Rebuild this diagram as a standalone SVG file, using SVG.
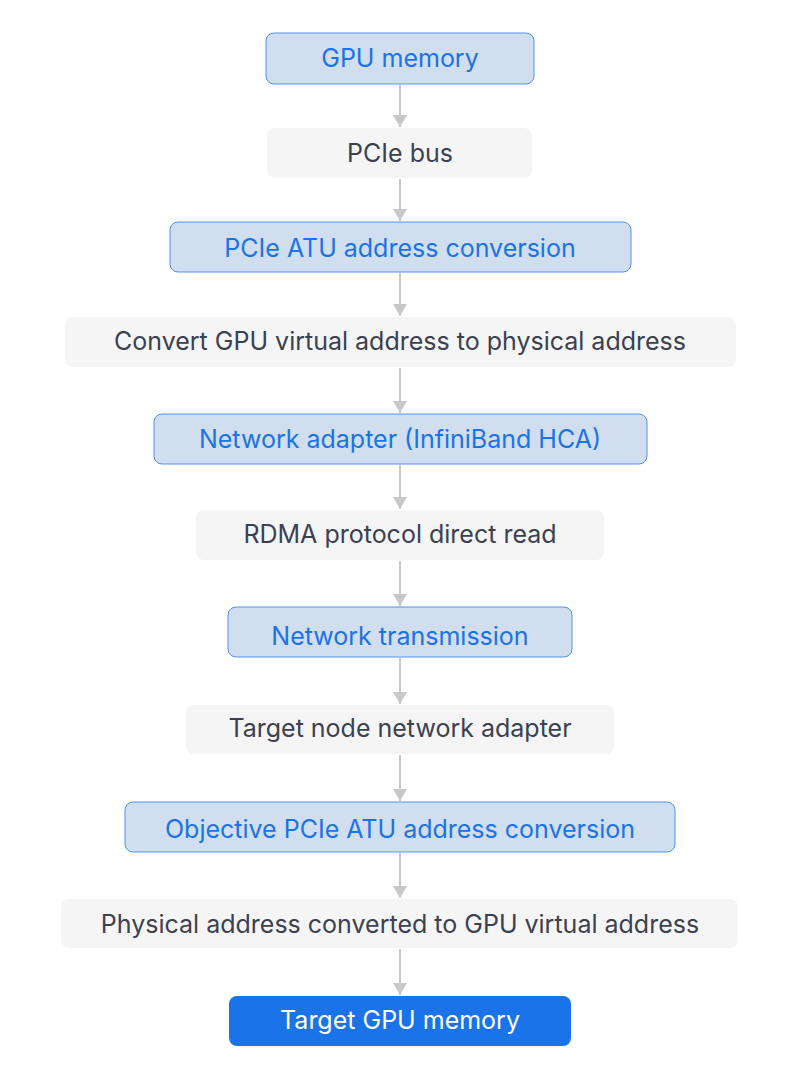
<svg xmlns="http://www.w3.org/2000/svg" width="799" height="1080" viewBox="0 0 799 1080">
<defs>
<style>
.b rect{fill:#d1deef;stroke:#4f93ec;stroke-width:1}
.g rect{fill:#f5f5f5}
.f rect{fill:#1a73e8}
text{font-family:Inter,"Liberation Sans",sans-serif;font-size:25px;text-anchor:middle;dominant-baseline:central}
.b text{fill:#1a73e8}
.g text{fill:#3b4150}
.f text{fill:#ffffff}
.c line{stroke:#c8c8c8;stroke-width:2}
</style>
<marker id="a" viewBox="0 0 12 14" refX="12" refY="7" markerWidth="12" markerHeight="14" markerUnits="userSpaceOnUse" orient="auto">
<path d="M0,0 L12,7 L0,14 z" fill="#c8c8c8"/>
</marker>
</defs>
<rect width="799" height="1080" fill="#ffffff"/>
<g class="c">
<line x1="400" y1="85" x2="400" y2="127" marker-end="url(#a)"/>
<line x1="400" y1="179" x2="400" y2="221" marker-end="url(#a)"/>
<line x1="400" y1="273" x2="400" y2="316" marker-end="url(#a)"/>
<line x1="400" y1="368" x2="400" y2="413" marker-end="url(#a)"/>
<line x1="400" y1="465" x2="400" y2="509" marker-end="url(#a)"/>
<line x1="400" y1="561" x2="400" y2="606" marker-end="url(#a)"/>
<line x1="400" y1="658" x2="400" y2="704" marker-end="url(#a)"/>
<line x1="400" y1="755" x2="400" y2="801" marker-end="url(#a)"/>
<line x1="400" y1="853" x2="400" y2="898" marker-end="url(#a)"/>
<line x1="400" y1="949" x2="400" y2="995" marker-end="url(#a)"/>
</g>
<g id="n1" class="b"><rect x="266" y="33" width="268" height="51" rx="8"/><text x="400" y="58">GPU memory</text></g>
<g id="n2" class="g"><rect x="267" y="128" width="265" height="50" rx="8"/><text x="400" y="153">PCIe bus</text></g>
<g id="n3" class="b"><rect x="170" y="222" width="461" height="50" rx="8"/><text x="400" y="248">PCIe ATU address conversion</text></g>
<g id="n4" class="g"><rect x="65" y="317" width="671" height="50" rx="8"/><text x="400" y="341">Convert GPU virtual address to physical address</text></g>
<g id="n5" class="b"><rect x="154" y="414" width="493" height="50" rx="8"/><text x="400" y="439">Network adapter (InfiniBand HCA)</text></g>
<g id="n6" class="g"><rect x="196" y="510" width="408" height="50" rx="8"/><text x="400" y="534">RDMA protocol direct read</text></g>
<g id="n7" class="b"><rect x="228" y="607" width="344" height="50" rx="8"/><text x="400" y="636">Network transmission</text></g>
<g id="n8" class="g"><rect x="186" y="705" width="428" height="49" rx="8"/><text x="400" y="728">Target node network adapter</text></g>
<g id="n9" class="b"><rect x="125" y="802" width="550" height="50" rx="8"/><text x="400" y="829">Objective PCIe ATU address conversion</text></g>
<g id="n10" class="g"><rect x="61" y="899" width="677" height="49" rx="8"/><text x="400" y="924">Physical address converted to GPU virtual address</text></g>
<g id="n11" class="f"><rect x="229" y="996" width="342" height="50" rx="8"/><text x="400" y="1020">Target GPU memory</text></g>
</svg>
